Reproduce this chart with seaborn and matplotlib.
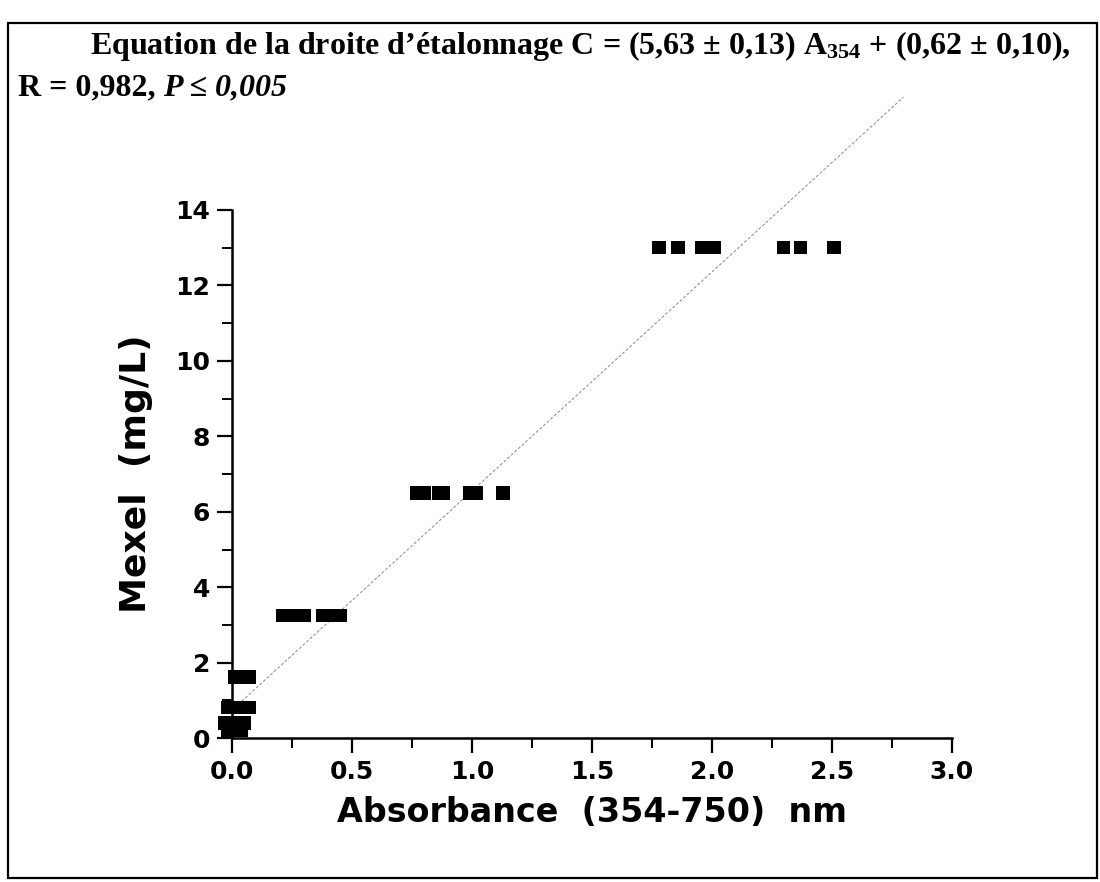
import matplotlib
matplotlib.use('Agg')
import numpy as np
import pandas as pd
import seaborn as sns
import matplotlib.pyplot as plt
from matplotlib.patches import Rectangle
from matplotlib.ticker import MultipleLocator

# Données (étalonnage Mexel)
absorbance = [-0.02, 0.00, 0.02, 0.04,
              -0.03, 0.00, 0.03, 0.05,
              -0.02, 0.01, 0.04, 0.07,
              0.01, 0.04, 0.07,
              0.21, 0.24, 0.28, 0.30, 0.38, 0.41, 0.45,
              0.77, 0.80, 0.86, 0.88, 0.99, 1.02, 1.13,
              1.78, 1.86, 1.96, 2.01, 2.30, 2.37, 2.51]
concentration = [0.2] * 4 + [0.4] * 4 + [0.8125] * 4 + [1.625] * 3 + \
                [3.25] * 7 + [6.5] * 7 + [13.0] * 7

# Droite tracée sur la figure
fit_x = [0.04, 2.80]
slope = 5.80
intercept = 0.75

x_ticks = [0.0, 0.5, 1.0, 1.5, 2.0, 2.5, 3.0]
x_ticklabels = ['0.0', '0.5', '1.0', '1.5', '2.0', '2.5', '3.0']
y_ticks = [0, 2, 4, 6, 8, 10, 12, 14]

df = pd.DataFrame({'A': absorbance, 'C': concentration})
fit = pd.DataFrame({'A': fit_x})
fit['C'] = slope * fit['A'] + intercept

sns.set_style('ticks')
plt.rcParams['font.family'] = ['DejaVu Sans']
plt.rcParams['text.color'] = 'black'
plt.rcParams['mathtext.fontset'] = 'custom'
plt.rcParams['mathtext.rm'] = 'Liberation Serif:bold'
plt.rcParams['mathtext.it'] = 'Liberation Serif:bold:italic'

fig = plt.figure(figsize=(11, 8.82), dpi=100)
ax = fig.add_axes([0.211, 0.163, 0.654, 0.599])

sns.lineplot(data=fit, x='A', y='C', ax=ax, color='#888888', lw=0.7,
             linestyle=(0, (3, 2)), clip_on=False)
sns.scatterplot(data=df, x='A', y='C', ax=ax, marker='s', s=95,
                color='black', edgecolor='none', clip_on=False, zorder=3)

ax.set_xlim(0, 3.0)
ax.set_ylim(0, 14)
ax.set_xticks(x_ticks)
ax.set_xticklabels(x_ticklabels)
ax.set_yticks(y_ticks)
ax.xaxis.set_minor_locator(MultipleLocator(0.25))
ax.yaxis.set_minor_locator(MultipleLocator(1))
sns.despine(ax=ax)
for s in ['left', 'bottom']:
    ax.spines[s].set_linewidth(1.8)
    ax.spines[s].set_color('black')
ax.tick_params(which='major', length=11, width=1.6, color='black', pad=5)
ax.tick_params(which='minor', length=7, width=1.4, color='black')
for lab in ax.get_xticklabels() + ax.get_yticklabels():
    lab.set_fontsize(18)
    lab.set_fontweight('bold')
    lab.set_color('black')

ax.set_xlabel('Absorbance  (354-750)  nm', fontsize=24, fontweight='bold',
              labelpad=8, color='black')
ax.set_ylabel('Mexel  (mg/L)', fontsize=26, fontweight='bold', labelpad=16,
              color='black')

# Titre (équation)
fig.text(0.082, 0.948,
         'Equation de la droite d\u2019étalonnage C = (5,63 ± 0,13) A$_{\\mathrm{354}}$ + (0,62 ± 0,10),',
         fontsize=23, fontweight='bold', family='Liberation Serif', va='center',
         color='black')
t1 = fig.text(0.016, 0.9, 'R = 0,982, ', fontsize=23, fontweight='bold',
              family='Liberation Serif', va='center', color='black')
plt.annotate('P ≤ 0,005', xy=(1, 0), xycoords=t1, va='bottom', fontsize=23,
             fontweight='bold', style='italic', family='Liberation Serif',
             color='black')

# Cadre
fig.patches.append(Rectangle((0.007, 0.004), 0.99, 0.97, transform=fig.transFigure,
                             fill=False, lw=1.6, edgecolor='black'))

plt.savefig('out.png', dpi=100)
